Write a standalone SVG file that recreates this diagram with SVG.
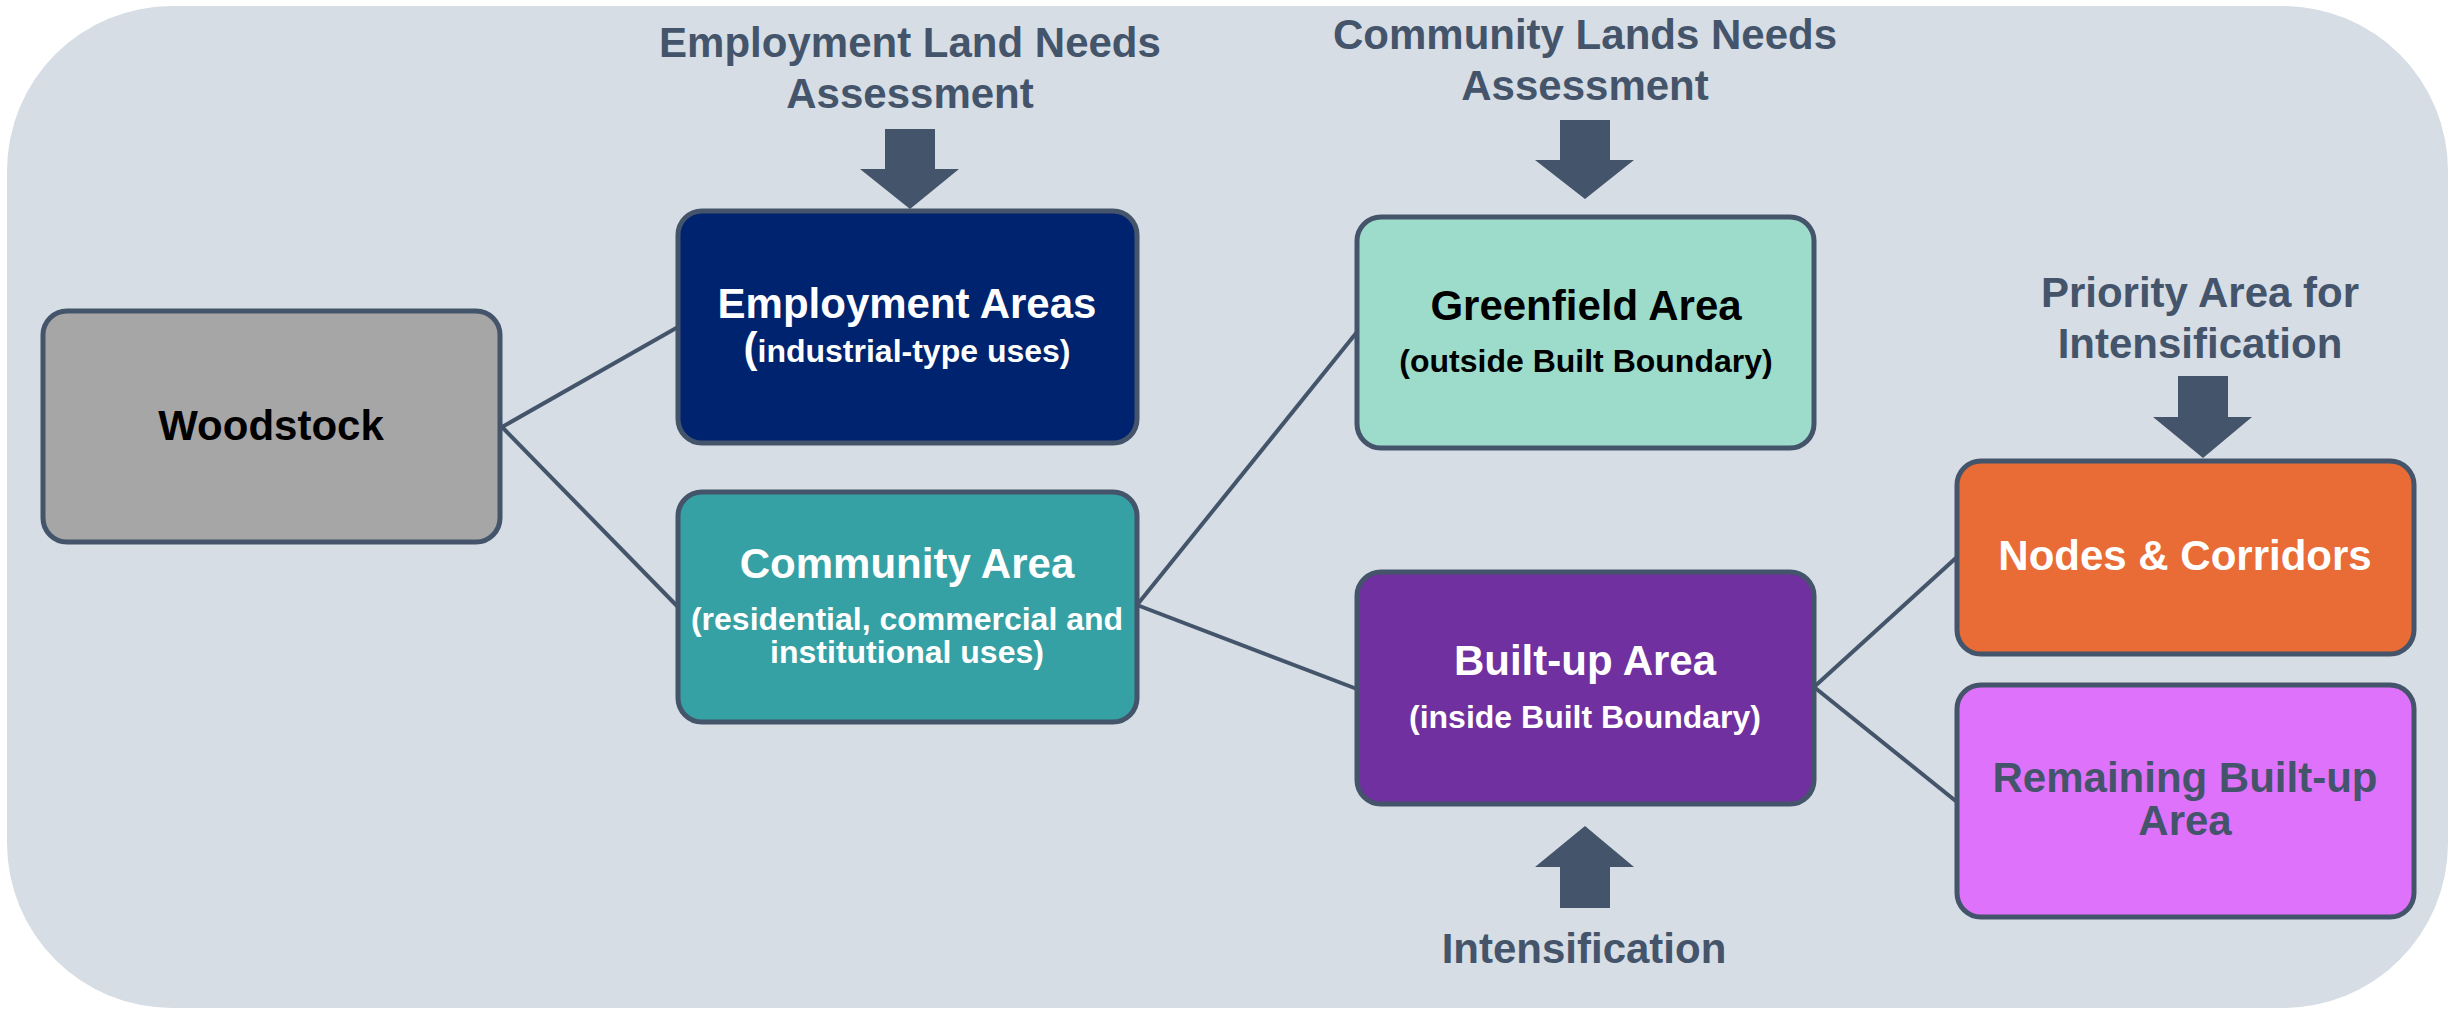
<svg xmlns="http://www.w3.org/2000/svg" width="2453" height="1010" viewBox="0 0 2453 1010">
<defs>
<style>
.box{stroke:#44546A;stroke-width:5}
.t{font-family:"Liberation Sans",Arial,sans-serif;font-weight:bold;text-anchor:middle}
.h{font-size:42px}
.s{font-size:32px}
.lbl{fill:#44546A}
.w{fill:#FFFFFF}
.k{fill:#000000}
.conn{stroke:#44546A;stroke-width:4;fill:none}
.arr{fill:#44546A}
</style>
</defs>
<rect x="7" y="6" width="2441" height="1002" rx="165" ry="165" fill="#D6DDE4"/>
<g id="labels">
<text class="t h lbl" x="910" y="57">Employment Land Needs</text>
<text class="t h lbl" x="910" y="108">Assessment</text>
<text class="t h lbl" x="1585" y="49">Community Lands Needs</text>
<text class="t h lbl" x="1585" y="100">Assessment</text>
<text class="t h lbl" x="2200" y="307">Priority Area for</text>
<text class="t h lbl" x="2200" y="358">Intensification</text>
<text class="t h lbl" x="1584" y="963">Intensification</text>
<polygon class="arr" points="885,129 935,129 935,169 959,169 910,209 860,169 885,169"/>
<polygon class="arr" points="1560,120 1610,120 1610,160 1634,160 1585,199 1535,160 1560,160"/>
<polygon class="arr" points="2178,376 2228,376 2228,417 2252,417 2203,458 2153,417 2178,417"/>
<polygon class="arr" points="1560,908 1610,908 1610,867 1634,867 1585,826 1535,867 1560,867"/>
</g>
<g id="connectors">
<line class="conn" x1="502" y1="427" x2="678" y2="327"/>
<line class="conn" x1="502" y1="427" x2="678" y2="607"/>
<line class="conn" x1="1137" y1="605" x2="1357" y2="332"/>
<line class="conn" x1="1137" y1="605" x2="1357" y2="689"/>
<line class="conn" x1="1814" y1="687" x2="1957" y2="557"/>
<line class="conn" x1="1814" y1="687" x2="1957" y2="802"/>
</g>
<g id="woodstock">
<rect class="box" x="43" y="311" width="457" height="231" rx="24" fill="#A6A6A6"/>
<text class="t h k" x="271" y="440">Woodstock</text>
</g>
<g id="employment">
<rect class="box" x="678" y="211" width="459" height="232" rx="24" fill="#00236F"/>
<text class="t h w" x="907" y="318">Employment Areas</text>
<text class="t s w" x="907" y="362"><tspan font-size="42">(</tspan>industrial-type uses)</text>
</g>
<g id="community">
<rect class="box" x="678" y="492" width="459" height="230" rx="24" fill="#36A1A4"/>
<text class="t h w" x="907" y="578">Community Area</text>
<text class="t s w" x="907" y="630">(residential, commercial and</text>
<text class="t s w" x="907" y="663">institutional uses)</text>
</g>
<g id="greenfield">
<rect class="box" x="1357" y="217" width="457" height="231" rx="24" fill="#9DDCCB"/>
<text class="t h k" x="1586" y="320">Greenfield Area</text>
<text class="t s k" x="1586" y="372">(outside Built Boundary)</text>
</g>
<g id="builtup">
<rect class="box" x="1357" y="572" width="457" height="232" rx="24" fill="#7030A0"/>
<text class="t h w" x="1585" y="675">Built-up Area</text>
<text class="t s w" x="1585" y="728">(inside Built Boundary)</text>
</g>
<g id="nodes">
<rect class="box" x="1957" y="461" width="457" height="193" rx="24" fill="#E96C36"/>
<text class="t h w" x="2185" y="570">Nodes &amp; Corridors</text>
</g>
<g id="remaining">
<rect class="box" x="1957" y="685" width="457" height="232" rx="24" fill="#DF72FA"/>
<text class="t h lbl" x="2185" y="792">Remaining Built-up</text>
<text class="t h lbl" x="2185" y="835">Area</text>
</g>
</svg>
